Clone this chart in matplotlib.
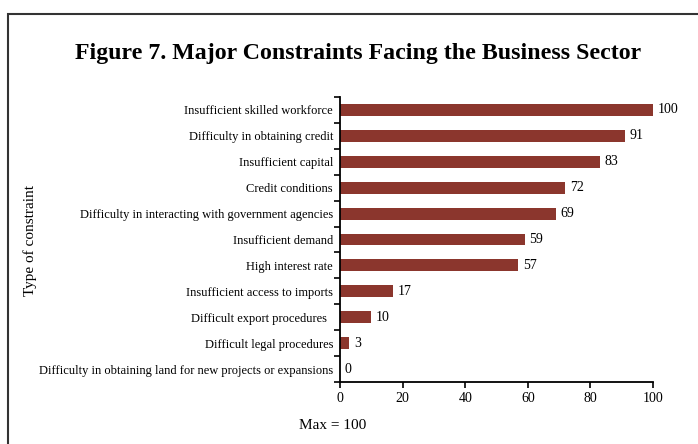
import matplotlib.pyplot as plt
from matplotlib.patches import Rectangle

plt.rcParams['font.family'] = ['Liberation Serif', 'DejaVu Serif']

categories = [
    "Insufficient skilled workforce",
    "Difficulty in obtaining credit",
    "Insufficient capital",
    "Credit conditions",
    "Difficulty in interacting with government agencies",
    "Insufficient demand",
    "High interest rate",
    "Insufficient access to imports",
    "Difficult export procedures  ",
    "Difficult legal procedures",
    "Difficulty in obtaining land for new projects or expansions",
]
values = [100, 91, 83, 72, 69, 59, 57, 17, 10, 3, 0]
xticks = [0, 20, 40, 60, 80, 100]

fig = plt.figure(figsize=(6.98, 4.44), dpi=100)
ax = fig.add_axes([340 / 698, 1 - 382 / 444, 313 / 698, 285 / 444])

# frame around the whole chart
fig.patches.append(Rectangle((8 / 698, -0.1), 1.2, 1 - 14 / 444 + 0.1,
                             transform=fig.transFigure, fill=False,
                             edgecolor='#333333', linewidth=1.5))

ypos = list(range(len(categories)))
ax.barh(ypos, values, height=0.46, color='#8B362D')
for y, v in zip(ypos, values):
    ax.annotate(str(v), (v, y), xytext=(3.5, 0), textcoords='offset points',
                va='center', ha='left', fontsize=10)

ax.set_ylim(len(categories) - 0.5, -0.5)
ax.set_xlim(0, 100)
ax.set_yticks(ypos)
ax.set_yticklabels(categories, fontsize=9)
ax.set_yticks([i + 0.5 for i in range(-1, len(categories))], minor=True)
ax.tick_params(axis='y', which='major', length=0, pad=5)
ax.tick_params(axis='y', which='minor', length=4, width=1.2, direction='out')
ax.set_xticks(xticks)
ax.set_xticklabels([str(t) for t in xticks], fontsize=10)
ax.tick_params(axis='x', length=4, width=1.2, direction='out', pad=3)

for s in ['top', 'right']:
    ax.spines[s].set_visible(False)
for s in ['left', 'bottom']:
    ax.spines[s].set_linewidth(1.3)

fig.text(75 / 698, 1 - 53 / 444, "Figure 7. Major Constraints Facing the Business Sector",
         fontsize=17.2, fontweight='bold', va='center', ha='left')
fig.text(30 / 698, 1 - 240 / 444, "Type of constraint", rotation=90,
         fontsize=11, va='center', ha='center')
fig.text(333 / 698, 1 - 425 / 444, "Max = 100", fontsize=11, va='center', ha='center')

fig.savefig('out.png', dpi=100)
